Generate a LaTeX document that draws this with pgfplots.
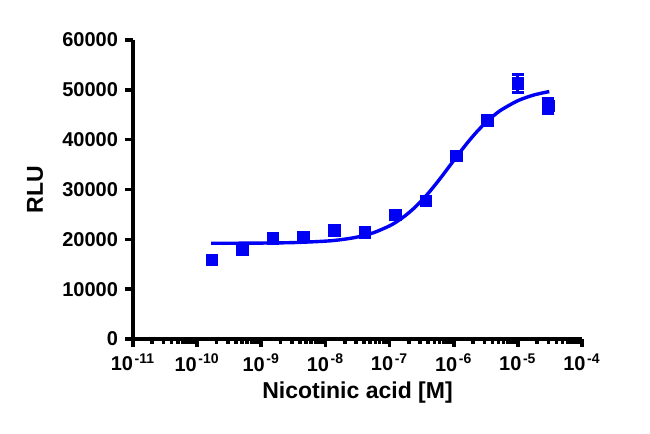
\documentclass[border=0pt]{standalone}
\usepackage{fontspec}
\setmainfont{Liberation Sans}
\usepackage{pgfplots}
\pgfplotsset{compat=1.18}
\definecolor{prismblue}{RGB}{0,0,245}
\newcommand{\dec}[1]{10\kern0.8pt\textsuperscript{#1}}
\begin{document}
\begin{tikzpicture}
\path[use as bounding box] (-66.5pt,-47.5pt) rectangle (258.5pt,169.5pt);
\begin{axis}[
    at={(0,0)}, anchor=south west,
    scale only axis, width=224.5pt, height=149.5pt,
    xmode=log, xmin=1e-11, xmax=1e-4,
    ymin=0, ymax=60000,
    scaled y ticks=false,
    axis x line=bottom, axis y line=left,
    axis line style={-, line width=2.2pt},
    tick align=outside,
    major tick length=4pt, minor tick length=2.5pt,
    every tick/.style={black, line width=1.8pt},
    xtick={1e-11,1e-10,1e-9,1e-8,1e-7,1e-6,1e-5,1e-4},
    xticklabels={\dec{-11},\dec{-10},\dec{-9},\dec{-8},\dec{-7},\dec{-6},\dec{-5},\dec{-4}},
    minor xtick={2e-11,3e-11,4e-11,5e-11,6e-11,7e-11,8e-11,9e-11,
                 2e-10,3e-10,4e-10,5e-10,6e-10,7e-10,8e-10,9e-10,
                 2e-9,3e-9,4e-9,5e-9,6e-9,7e-9,8e-9,9e-9,
                 2e-8,3e-8,4e-8,5e-8,6e-8,7e-8,8e-8,9e-8,
                 2e-7,3e-7,4e-7,5e-7,6e-7,7e-7,8e-7,9e-7,
                 2e-6,3e-6,4e-6,5e-6,6e-6,7e-6,8e-6,9e-6,
                 2e-5,3e-5,4e-5,5e-5,6e-5,7e-5,8e-5,9e-5},
    ytick={0,10000,20000,30000,40000,50000,60000},
    yticklabels={0,10000,20000,30000,40000,50000,60000},
    tick label style={font=\fontsize{10}{12}\selectfont\bfseries},
    xlabel={Nicotinic acid [M]}, ylabel={RLU},
    label style={font=\fontsize{11.5}{14}\selectfont\bfseries},
    xlabel style={at={(axis description cs:0.5,-0.18)}, anchor=center},
    ylabel style={at={(axis description cs:-0.218,0.5)}, anchor=center},
    clip=false,
]
% fitted curve
\addplot[prismblue, line width=1.7pt, smooth, no marks] coordinates {
    (1.66e-10,19209) (3.16e-10,19217) (1e-9,19250) (3.162e-9,19347)
    (1e-8,19636) (1.778e-8,19946) (3.162e-8,20465) (5.623e-8,21328)
    (1e-7,22704) (1.334e-7,23649) (1.778e-7,24805) (2.371e-7,26174)
    (3.162e-7,27769) (4.217e-7,29575) (5.623e-7,31558) (7.499e-7,33663)
    (1e-6,35810) (1.334e-6,37929) (1.778e-6,39940) (2.371e-6,41787)
    (3.162e-6,43425) (4.217e-6,44841) (5.623e-6,46036) (1e-5,47821)
    (1.778e-5,48968) (3.09e-5,49652)
};
% measured points
\addplot[prismblue, only marks, mark=square*, mark size=2.9pt] coordinates {
    (1.69e-10,15850) (5.08e-10,18000) (1.52e-9,20200) (4.57e-9,20470)
    (1.37e-8,21810) (4.12e-8,21410) (1.23e-7,24880) (3.70e-7,27750)
    (1.11e-6,36780) (3.33e-6,43810)
};
\addplot[prismblue, only marks, mark=square*, mark size=2.9pt,
    error bars/.cd, y dir=both, y explicit,
    error bar style={line width=1.4pt, prismblue},
    error mark options={prismblue, line width=1.4pt, mark size=3pt, rotate=90}] coordinates {
    (1e-5,51310) +- (0,1840)
    (3e-5,46760) +- (0,1500)
};
\end{axis}
\end{tikzpicture}
\end{document}
